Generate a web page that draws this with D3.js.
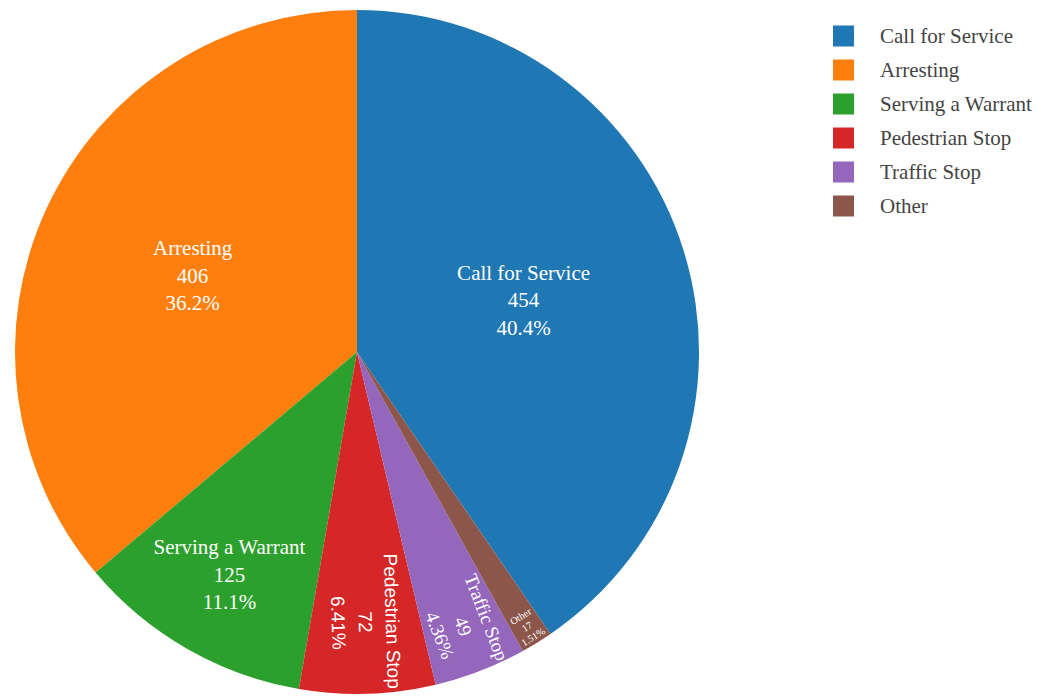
<!DOCTYPE html>
<html>
<head>
<meta charset="utf-8">
<script src="https://cdn.jsdelivr.net/npm/d3@7"></script>
<style>
  html, body { margin: 0; padding: 0; background: #fff; }
  svg { display: block; }
  .serif { font-family: "Times New Roman", "Liberation Serif", Tinos, Times, serif; }
  .sans { font-family: Arial, "Liberation Sans", Helvetica, sans-serif; }
</style>
</head>
<body>
<svg id="chart" width="1043" height="696"></svg>
<script>
// Use-of-force incidents by activity
const categories = ["Call for Service", "Arresting", "Serving a Warrant", "Pedestrian Stop", "Traffic Stop", "Other"];
const counts = [454, 406, 125, 72, 49, 17];
const palette = ["#1f77b4", "#ff7f0e", "#2ca02c", "#d62728", "#9467bd", "#8c564b"];

const W = 1043, H = 696;
const cx = 357, cy = 352, R = 342;

// How each slice label is laid out: orientation, distance from the centre (fraction of R),
// font size, line spacing and font class.
const labelStyle = {
  "Call for Service":  { orient: "h", r: 0.51, size: 21, lh: 27.5, font: "serif" },
  "Arresting":         { orient: "h", r: 0.53, size: 21, lh: 27.5, font: "serif" },
  "Serving a Warrant": { orient: "h", r: 0.75, size: 21, lh: 27.5, font: "serif" },
  "Pedestrian Stop":   { orient: "radial", r: 0.79, size: 19, lh: 27, font: "sans" },
  "Traffic Stop":      { orient: "radial", r: 0.86, size: 19, lh: 25, font: "serif" },
  "Other":             { orient: "tangential", r: 0.944, size: 10, lh: 12, font: "serif" }
};

const data = categories.map((c, i) => ({ name: c, value: counts[i], color: palette[i] }));
const total = d3.sum(counts);
const fmtPct = v => d3.format(".3r")(v * 100) + "%";

// Slices run counterclockwise, the first one ending at 12 o'clock.
const start = 2 * Math.PI * counts[0] / total;
const pie = d3.pie().sort(null).value(d => d.value)
  .startAngle(start).endAngle(start - 2 * Math.PI);
const arcs = pie(data);
const arc = d3.arc().innerRadius(0).outerRadius(R);

const svg = d3.select("#chart");
svg.append("rect").attr("width", W).attr("height", H).attr("fill", "#fff");

const g = svg.append("g").attr("transform", `translate(${cx},${cy})`);

g.selectAll("path.slice")
  .data(arcs)
  .join("path")
  .attr("class", "slice")
  .attr("d", arc)
  .attr("fill", d => d.data.color);

// Slice labels: name, count and share
const labels = g.selectAll("g.lbl")
  .data(arcs)
  .join("g")
  .attr("class", "lbl")
  .attr("transform", d => {
    const st = labelStyle[d.data.name];
    const mid = (d.startAngle + d.endAngle) / 2;
    const x = Math.sin(mid) * R * st.r;
    const y = -Math.cos(mid) * R * st.r;
    const deg = mid * 180 / Math.PI;
    let rot = 0;
    if (st.orient === "radial") rot = deg - 90;
    if (st.orient === "tangential") rot = deg - 180;
    return `translate(${x},${y}) rotate(${rot})`;
  });

labels.each(function(d) {
  const st = labelStyle[d.data.name];
  const lines = [d.data.name, String(d.data.value), fmtPct(d.data.value / total)];
  d3.select(this).selectAll("text")
    .data(lines)
    .join("text")
    .attr("class", st.font)
    .attr("x", 0)
    .attr("y", (t, i) => (i - 1) * st.lh)
    .attr("text-anchor", "middle")
    .attr("dominant-baseline", "central")
    .attr("fill", "#fff")
    .attr("font-size", st.size)
    .text(t => t);
});

// Legend
const legend = svg.append("g").attr("transform", "translate(833,36)");
const rowH = 34;
const items = legend.selectAll("g.item")
  .data(data)
  .join("g")
  .attr("class", "item")
  .attr("transform", (d, i) => `translate(0,${i * rowH})`);

items.append("rect")
  .attr("x", 0).attr("y", -10.5)
  .attr("width", 21).attr("height", 21)
  .attr("fill", d => d.color);

items.append("text")
  .attr("class", "serif")
  .attr("x", 47).attr("y", 7)
  .attr("fill", "#444")
  .attr("font-size", 21)
  .text(d => d.name);
</script>
</body>
</html>
